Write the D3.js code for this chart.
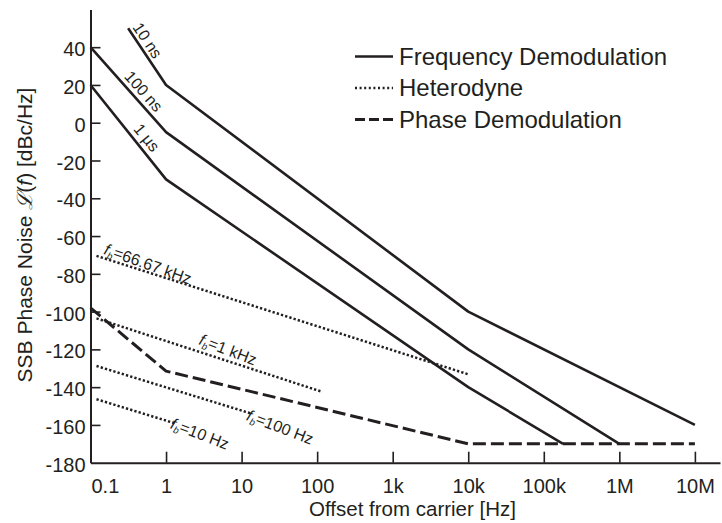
<!DOCTYPE html>
<html>
<head>
<meta charset="utf-8">
<script src="https://cdn.jsdelivr.net/npm/d3@7"></script>
<style>
  html, body { margin: 0; padding: 0; background: #fff; }
  svg { display: block; }
  text { font-family: "Liberation Sans", Arial, Helvetica, sans-serif; fill: #231f20; }
</style>
</head>
<body>
<svg id="chart" width="722" height="523"></svg>
<script>
// ---------------- data ----------------
const xTickValues = [0.1, 1, 10, 100, 1e3, 1e4, 1e5, 1e6, 1e7];
const xTickLabels = ["0.1", "1", "10", "100", "1k", "10k", "100k", "1M", "10M"];
const yTickValues = [40, 20, 0, -20, -40, -60, -80, -100, -120, -140, -160, -180];
const yTickLabels = ["40", "20", "0", "-20", "-40", "-60", "-80", "-100", "-120", "-140", "-160", "-180"];

const seriesNames = ["Frequency Demodulation", "Heterodyne", "Phase Demodulation"];

// Frequency demodulation (solid)
const fd10nsF  = [0.315, 1, 1e4, 1e7];
const fd10nsL  = [50, 20, -100, -160];
const fd100nsF = [0.1, 1, 1e4, 1e6];
const fd100nsL = [40, -5, -120, -170];
const fd1usF   = [0.1, 1, 1e4, 1.8e5];
const fd1usL   = [20, -30, -140, -170];
const fdLabels = ["10 ns", "100 ns", "1 µs"];

// Heterodyne (dotted)
const het66kF  = [0.12, 1e4];
const het66kL  = [-70.5, -133.2];
const het1kF   = [0.12, 115];
const het1kL   = [-103.6, -142.4];
const het100F  = [0.12, 13];
const het100L  = [-128.8, -153.8];
const het10F   = [0.12, 1.3];
const het10L   = [-146.4, -159.1];
const hetLabels = ["=66.67 kHz", "=1 kHz", "=100 Hz", "=10 Hz"];

// Phase demodulation (dashed)
const pdF = [0.1, 1, 1e4, 1e7];
const pdL = [-98, -131.5, -170, -170];

// ---------------- layout ----------------
const svg = d3.select("#chart");
const ink = "#231f20";
const x = d3.scaleLog().domain([0.1, 2.15e7]).range([90.5, 720]);
const y = d3.scaleLinear().domain([-180, 60]).range([462.7, 9.4]);

// axes
const xAxis = d3.axisBottom(x).tickValues(xTickValues).tickSize(-11).tickSizeOuter(0)
  .tickFormat((d, i) => xTickLabels[i]);
const gx = svg.append("g").attr("transform", `translate(0,${y(-180)})`).call(xAxis);
gx.select(".domain").attr("stroke", ink).attr("stroke-width", 2);
gx.selectAll(".tick line").attr("stroke", ink).attr("stroke-width", 1.6);
gx.selectAll(".tick text").attr("font-size", 20).attr("fill", ink)
  .attr("font-family", '"Liberation Sans", Arial, sans-serif')
  .attr("y", 30).attr("dy", 0);
gx.selectAll(".tick").filter((d, i) => i === 0).select("text")
  .attr("text-anchor", "start").attr("x", 0.5);
gx.selectAll(".tick").filter((d, i) => i === 0).select("line").remove();

const yAxis = d3.axisLeft(y).tickValues(yTickValues).tickSize(-10).tickSizeOuter(0)
  .tickFormat((d, i) => yTickLabels[i]);
const gy = svg.append("g").attr("transform", `translate(${x(0.1)},0)`).call(yAxis);
gy.select(".domain").attr("stroke", ink).attr("stroke-width", 2);
gy.selectAll(".tick line").attr("stroke", ink).attr("stroke-width", 1.6);
gy.selectAll(".tick").filter(d => d === -180).select("line").remove();
gy.selectAll(".tick text").attr("font-size", 20).attr("fill", ink)
  .attr("font-family", '"Liberation Sans", Arial, sans-serif')
  .attr("x", -5).attr("dy", "0.43em");

// axis titles
svg.append("text").attr("x", 412.5).attr("y", 516).attr("text-anchor", "middle")
  .attr("font-size", 20.5).text("Offset from carrier [Hz]");

const yt = svg.append("text").attr("transform", "translate(32,235) rotate(-90)")
  .attr("text-anchor", "middle").attr("font-size", 21);
yt.append("tspan").text("SSB Phase Noise ");
yt.append("tspan").attr("font-family", '"DejaVu Serif", serif').attr("font-style", "italic").text("ℒ");
yt.append("tspan").text("(");
yt.append("tspan").attr("font-style", "italic").text("f");
yt.append("tspan").text(") [dBc/Hz]");

// ---------------- lines ----------------
const toPts = (F, L) => F.map((f, i) => [f, L[i]]);
const line = d3.line().x(d => x(d[0])).y(d => y(d[1]));

const styles = {
  solid:  { w: 2.6, dash: null },
  dotted: { w: 2.5, dash: "2.3 2.1" },
  dashed: { w: 3,   dash: "13 5" }
};
function draw(F, L, st) {
  svg.append("path").datum(toPts(F, L)).attr("d", line)
    .attr("fill", "none").attr("stroke", ink).attr("stroke-width", styles[st].w)
    .attr("stroke-dasharray", styles[st].dash).attr("stroke-linejoin", "round");
}
draw(fd10nsF, fd10nsL, "solid");
draw(fd100nsF, fd100nsL, "solid");
draw(fd1usF, fd1usL, "solid");
draw(het66kF, het66kL, "dotted");
draw(het1kF, het1kL, "dotted");
draw(het100F, het100L, "dotted");
draw(het10F, het10L, "dotted");
draw(pdF, pdL, "dashed");

// ---------------- line labels ----------------
function placeOn(F, L, f) {
  let k = 0;
  while (k < F.length - 2 && f > F[k + 1]) k++;
  const x0 = x(F[k]), y0 = y(L[k]), x1 = x(F[k + 1]), y1 = y(L[k + 1]);
  const px = x(f);
  const t = (px - x0) / (x1 - x0);
  return { px, py: y0 + t * (y1 - y0), ang: Math.atan2(y1 - y0, x1 - x0) * 180 / Math.PI };
}
function fdLabel(F, L, f, off, txt) {
  const p = placeOn(F, L, f);
  svg.append("text").attr("transform", `translate(${p.px},${p.py}) rotate(${p.ang})`)
    .attr("text-anchor", "middle").attr("font-size", 16).attr("y", off).attr("dy", "0.35em")
    .text(txt);
}
fdLabel(fd10nsF, fd10nsL, 0.448, -9.5, fdLabels[0]);
fdLabel(fd100nsF, fd100nsL, 0.399, -10.5, fdLabels[1]);
fdLabel(fd1usF, fd1usL, 0.427, -11, fdLabels[2]);

function hetLabel(F, L, f, off, extra, txt) {
  const p = placeOn(F, L, f);
  const t = svg.append("text").attr("transform", `translate(${p.px},${p.py}) rotate(${p.ang + extra})`)
    .attr("text-anchor", "middle").attr("font-size", 16).attr("y", off).attr("dy", "0.35em");
  t.append("tspan").attr("font-style", "italic").text("f");
  t.append("tspan").attr("font-style", "italic").attr("font-size", 9.5).attr("dy", 3).text("b");
  t.append("tspan").attr("dy", -3).text(txt);
}
hetLabel(het66kF, het66kL, 0.53, -8, 2, hetLabels[0]);
hetLabel(het1kF, het1kL, 5.85, -11, 3, hetLabels[1]);
hetLabel(het100F, het100L, 34, 4.5, 4, hetLabels[2]);
hetLabel(het10F, het10L, 2.89, 2.6, 4, hetLabels[3]);

// ---------------- legend ----------------
const legendRows = [
  { name: seriesNames[0], ly: 56.5, st: "solid",  dash: null },
  { name: seriesNames[1], ly: 88,   st: "dotted", dash: "2 2.6" },
  { name: seriesNames[2], ly: 119.5, st: "dashed", dash: "10 4" }
];
legendRows.forEach(r => {
  svg.append("line").attr("x1", 355).attr("x2", 393).attr("y1", r.ly).attr("y2", r.ly)
    .attr("stroke", ink).attr("stroke-width", styles[r.st].w).attr("stroke-dasharray", r.dash);
  svg.append("text").attr("x", 399).attr("y", r.ly).attr("dy", "0.35em")
    .attr("font-size", 24).text(r.name);
});
</script>
</body>
</html>
